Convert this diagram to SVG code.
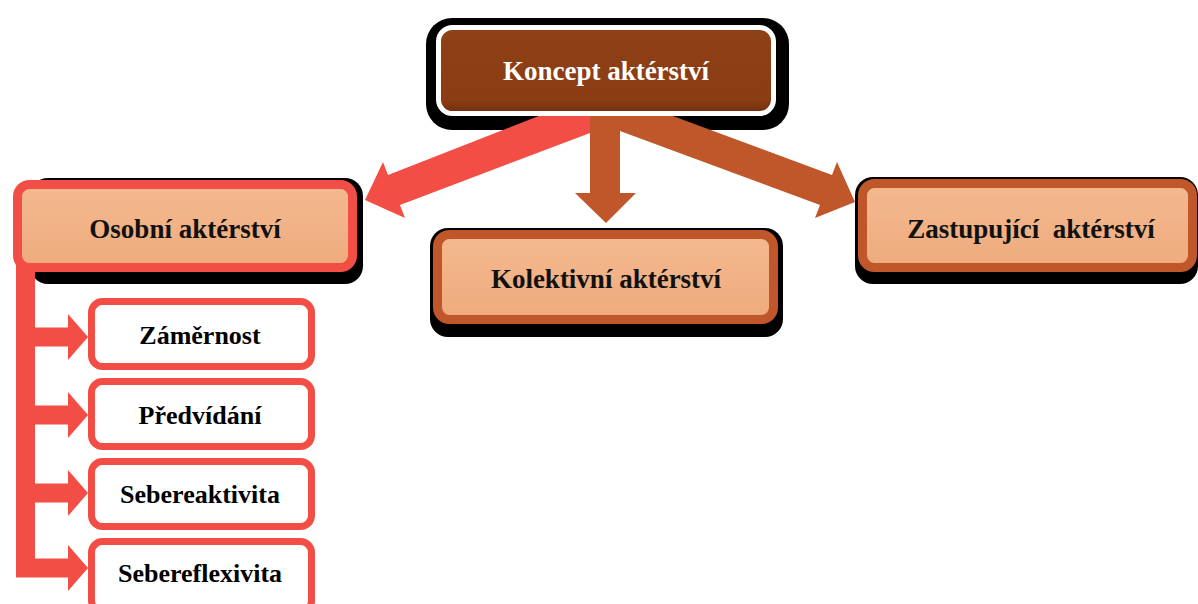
<svg xmlns="http://www.w3.org/2000/svg" width="1198" height="604" viewBox="0 0 1198 604">
  <defs>
    <style>
      .shadow { fill: #000; }
      .label { font-family: "Liberation Serif", "Times New Roman", serif; font-weight: bold; font-size: 27px; text-anchor: middle; fill: #111; }
      .sub { font-family: "Liberation Serif", "Times New Roman", serif; font-weight: bold; font-size: 26px; text-anchor: middle; fill: #000; }
      .head { fill: #fff; }
      .red { fill: #F24E45; }
      .rust { fill: #C0572A; }
      .peach-red { fill: url(#peach); stroke: #F24E45; stroke-width: 9; }
      .peach-rust { fill: url(#peach); stroke: #C0572A; stroke-width: 9; }
      .leaf { fill: #fff; stroke: #F24E45; stroke-width: 7; }
    </style>
    <linearGradient id="peach" x1="0" y1="0" x2="0" y2="1">
      <stop offset="0" stop-color="#F4B98F"/>
      <stop offset="1" stop-color="#EEAB7D"/>
    </linearGradient>
    <linearGradient id="brown" x1="0" y1="0" x2="0" y2="1">
      <stop offset="0" stop-color="#8E4116"/>
      <stop offset="0.85" stop-color="#8A3C13"/>
      <stop offset="1" stop-color="#6E2E0C"/>
    </linearGradient>
  </defs>

  <rect width="1198" height="604" fill="#fff"/>

  <!-- dark drop shadows behind the main boxes -->
  <g id="shadows">
    <rect class="shadow" x="426" y="18" width="363" height="112" rx="26"/>
    <rect class="shadow" x="30" y="178" width="333" height="106" rx="18"/>
    <rect class="shadow" x="430" y="228" width="353" height="109" rx="18"/>
    <rect class="shadow" x="855" y="177" width="343" height="107" rx="18"/>
  </g>

  <g id="connectors">
    <!-- to Osobní aktérství -->
    <polygon class="red" points="590,112 590,133 400,205 405,218 365,200 383,162 388,175 549,112"/>
    <!-- to Kolektivní aktérství -->
    <polygon class="rust" points="590,112 620,112 620,193 636,193 606,223 575,193 590,193"/>
    <!-- to Zastupující aktérství -->
    <polygon class="rust" points="620,112 620,131 820,205 815,218 855,202 837,162 832,175 662,112"/>
    <!-- bracket down to the four traits -->
    <rect class="red" x="16" y="262" width="19" height="315.5"/>
    <polygon class="red" points="35,327.5 68,327.5 68,314 88,337 68,360 68,346.5 35,346.5"/>
    <polygon class="red" points="35,405.5 68,405.5 68,392 88,415 68,438 68,424.5 35,424.5"/>
    <polygon class="red" points="35,483.5 68,483.5 68,470 88,493 68,516 68,502.5 35,502.5"/>
    <polygon class="red" points="35,558.5 68,558.5 68,545 88,568 68,591 68,577.5 35,577.5"/>
  </g>

  <g id="koncept">
    <rect x="438.5" y="27.5" width="335" height="86" rx="14" fill="url(#brown)" stroke="#fff" stroke-width="5"/>
    <text class="label head" x="606" y="80">Koncept aktérství</text>
  </g>

  <g id="osobni">
    <rect class="peach-red" x="17.5" y="184.5" width="335" height="83" rx="12"/>
    <text class="label" x="185" y="238">Osobní aktérství</text>
  </g>

  <g id="kolektivni">
    <rect class="peach-rust" x="437.5" y="234.5" width="336" height="85" rx="12"/>
    <text class="label" x="606" y="288">Kolektivní aktérství</text>
  </g>

  <g id="zastupujici">
    <rect class="peach-rust" x="862.5" y="183.5" width="330" height="84" rx="12"/>
    <text class="label" x="1031" y="238" xml:space="preserve">Zastupující  aktérství</text>
  </g>

  <g id="zamernost">
    <rect class="leaf" x="91.5" y="301.5" width="220" height="65" rx="11"/>
    <text class="sub" x="200" y="344">Záměrnost</text>
  </g>

  <g id="predvidani">
    <rect class="leaf" x="91.5" y="381.5" width="220" height="65" rx="11"/>
    <text class="sub" x="200" y="424">Předvídání</text>
  </g>

  <g id="sebereaktivita">
    <rect class="leaf" x="91.5" y="461.5" width="220" height="65" rx="11"/>
    <text class="sub" x="200" y="503">Sebereaktivita</text>
  </g>

  <g id="sebereflexivita">
    <rect class="leaf" x="91.5" y="541.5" width="220" height="70" rx="11"/>
    <text class="sub" x="200" y="582">Sebereflexivita</text>
  </g>
</svg>
